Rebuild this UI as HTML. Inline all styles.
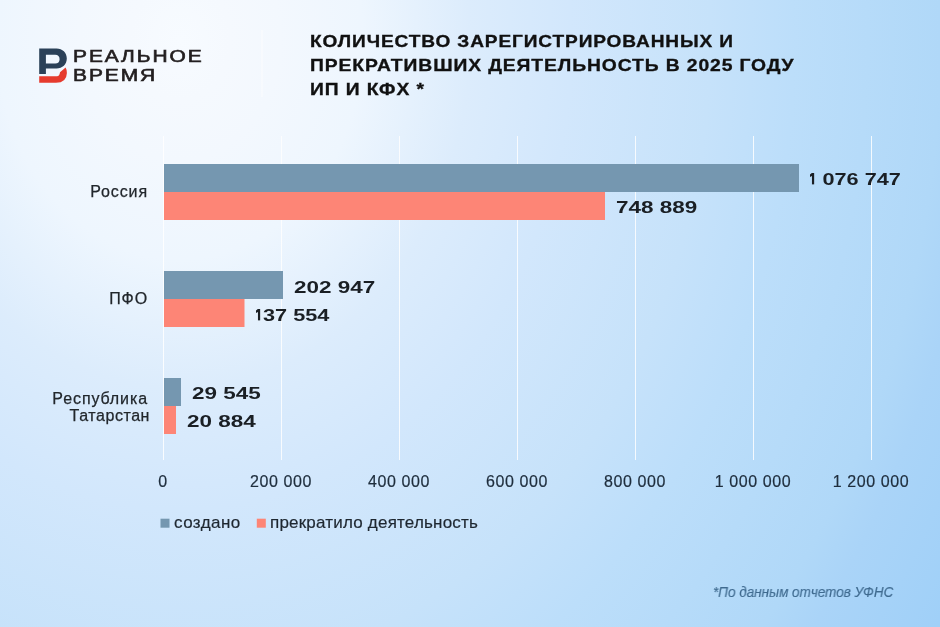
<!DOCTYPE html>
<html><head><meta charset="utf-8">
<style>
html,body{margin:0;padding:0;}
body{width:940px;height:627px;overflow:hidden;position:relative;
background:radial-gradient(ellipse 1000px 1200px at 180px 40px,#f7fbff 0px,#f5f9fe 50px,#f3f8fe 100px,#eef6fe 183px,#dcecfc 290px,#d2e7fc 391px,#c6e2fa 530px,#bcdefa 614px,#b0d8f8 760px,#aad4f8 800px,#a0d0f8 900px,#9ccef8 1000px);
font-family:"Liberation Sans",sans-serif;}
.t{position:absolute;white-space:nowrap;line-height:1;transform-origin:0 0;will-change:transform;}
.logo{font-size:17.3px;color:#231f20;-webkit-text-stroke:0.65px #231f20;letter-spacing:1.6px;}
.title{font-size:15.3px;font-weight:bold;color:#111;letter-spacing:0.7px;-webkit-text-stroke:0.3px #111;}
.num{font-size:15.5px;font-weight:bold;color:#1a1f24;}
.one{display:inline-block;vertical-align:baseline;}
.ax{font-size:16px;letter-spacing:0.6px;color:#1e2d3c;-webkit-text-stroke:0.2px #1e2d3c;text-align:center;width:120px;}
.cat{font-size:16px;color:#22272c;-webkit-text-stroke:0.25px #22272c;text-align:right;width:140px;letter-spacing:0.9px;}
.leg{font-size:17px;color:#1e2730;-webkit-text-stroke:0.2px #1e2730;}
.foot{font-size:15px;transform:scaleX(0.9);font-style:italic;color:#3f6a8f;-webkit-text-stroke:0.15px #3f6a8f;}
</style></head><body>
<svg width="940" height="627" style="position:absolute;left:0;top:0">
  <!-- logo -->
  <path fill="#2b4158" fill-rule="evenodd" d="M39.2,48.6 L56.5,48.6 C62.5,48.6 66.8,52.8 66.8,58.6 C66.8,64.4 62.5,68.6 56.5,68.6 L45.9,68.6 L45.9,73.9 L39.2,73.9 Z M45.9,54.8 L55.2,54.8 C58,54.8 59.6,56.6 59.6,59.2 C59.6,61.8 58,63.6 55.2,63.6 L45.9,63.6 Z"/>
  <path fill="#e63b2e" d="M39.2,76.2 L57,76.2 Q59.5,76.2 60,72.2 L65.6,67.4 Q67.1,70 66.9,73 Q66.6,82.8 56,82.8 L39.2,82.8 Z"/>
  <!-- faint divider -->
  <rect x="261" y="30" width="2" height="67" fill="#ffffff" opacity="0.35"/>
  <!-- gridlines -->
  <g fill="#ffffff" opacity="0.85">
    <rect x="163" y="136" width="1" height="324"/>
    <rect x="281" y="136" width="1" height="324"/>
    <rect x="399" y="136" width="1" height="324"/>
    <rect x="517" y="136" width="1" height="324"/>
    <rect x="635" y="136" width="1" height="324"/>
    <rect x="753" y="136" width="1" height="324"/>
    <rect x="871" y="136" width="1" height="324"/>
  </g>
  <!-- bars -->
  <rect x="164" y="164" width="635" height="28" fill="#7597b0"/>
  <rect x="164" y="192" width="441" height="28" fill="#fd8576"/>
  <rect x="164" y="271" width="119" height="28" fill="#7597b0"/>
  <rect x="164" y="299" width="80.5" height="28" fill="#fd8576"/>
  <rect x="164" y="378" width="17" height="28" fill="#7597b0"/>
  <rect x="164" y="406" width="12" height="28" fill="#fd8576"/>
  <!-- legend squares -->
  <rect x="160.5" y="518.7" width="9" height="9" fill="#7597b0"/>
  <rect x="256.8" y="518.7" width="9" height="9" fill="#fd8576"/>
</svg>

<div class="t logo" style="left:72.5px;top:47.6px;transform:scaleX(1.21)">РЕАЛЬНОЕ</div>
<div class="t logo" style="left:72.5px;top:67px;transform:scaleX(1.21)">ВРЕМЯ</div>

<div class="t title" style="left:310px;top:33px;transform:scale(1.248,1.05)">КОЛИЧЕСТВО ЗАРЕГИСТРИРОВАННЫХ И</div>
<div class="t title" style="left:310px;top:57px;transform:scale(1.262,1.05)">ПРЕКРАТИВШИХ ДЕЯТЕЛЬНОСТЬ В 2025 ГОДУ</div>
<div class="t title" style="left:310px;top:81px;transform:scale(1.26,1.05)">ИП И КФХ *</div>

<div class="t num" style="left:810px;top:171px;transform:scale(1.4,1.04)"><svg class="one" style="margin-right:1.2px" width="3.4" height="11.2" viewBox="0 0 3.4 11.2" preserveAspectRatio="none"><path fill="#1a1f24" d="M1.3,0 L3.4,0 L3.4,11.2 L1.4,11.2 L1.4,2.9 L0,3.7 L0,1.3 Z"/></svg> 076 747</div>
<div class="t num" style="left:616px;top:198.6px;transform:scale(1.45,1.04)">748 889</div>
<div class="t num" style="left:294px;top:279px;transform:scale(1.45,1.04)">202 947</div>
<div class="t num" style="left:256px;top:307px;transform:scale(1.40,1.04)"><svg class="one" style="margin-right:1.6px" width="3.4" height="11.2" viewBox="0 0 3.4 11.2" preserveAspectRatio="none"><path fill="#1a1f24" d="M1.3,0 L3.4,0 L3.4,11.2 L1.4,11.2 L1.4,2.9 L0,3.7 L0,1.3 Z"/></svg>37 554</div>
<div class="t num" style="left:191.5px;top:384.5px;transform:scale(1.45,1.04)">29 545</div>
<div class="t num" style="left:187px;top:413px;transform:scale(1.45,1.04)">20 884</div>

<div class="t ax" style="left:103px;top:474px">0</div>
<div class="t ax" style="left:221px;top:474px">200 000</div>
<div class="t ax" style="left:339px;top:474px">400 000</div>
<div class="t ax" style="left:457px;top:474px">600 000</div>
<div class="t ax" style="left:575px;top:474px">800 000</div>
<div class="t ax" style="left:693px;top:474px">1 000 000</div>
<div class="t ax" style="left:811px;top:474px">1 200 000</div>

<div class="t cat" style="left:8.3px;top:184px">Россия</div>
<div class="t cat" style="left:8.3px;top:291px">ПФО</div>
<div class="t cat" style="left:8px;top:390.5px">Республика</div>
<div class="t cat" style="left:9.5px;top:407.5px;letter-spacing:0.55px">Татарстан</div>

<div class="t leg" style="left:173.5px;top:513.5px;letter-spacing:0.45px">создано</div>
<div class="t leg" style="left:270px;top:513.5px;letter-spacing:0.2px">прекратило деятельность</div>

<div class="t foot" style="left:713px;top:584px">*По данным отчетов УФНС</div>
</body></html>
